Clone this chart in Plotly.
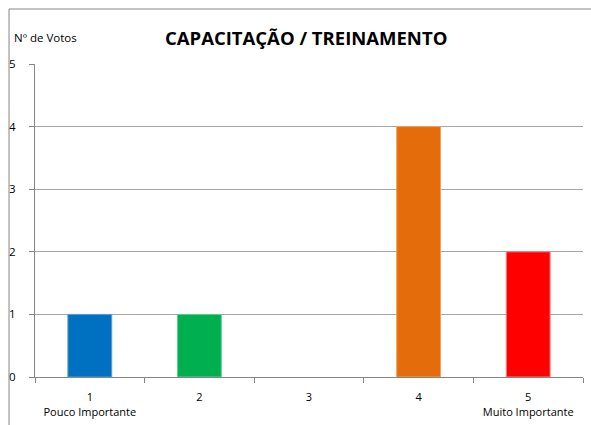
import plotly.graph_objects as go

categories = ["1", "2", "3", "4", "5"]
tick_labels = ["1<br>Pouco Importante", "2", "3", "4", "5<br>Muito Importante"]
votes = [1, 1, 0, 4, 2]
colors = ["#0070C0", "#00B050", "#E46C0A", "#E46C0A", "#FF0000"]
edge_colors = ["#5B9BD5", "#66CC8F", "#F0A060", "#F0A060", "#FF8080"]
edge_widths = [1 if v > 0 else 0 for v in votes]

FONT = "Open Sans"

fig = go.Figure(
    go.Bar(
        x=categories,
        y=votes,
        marker=dict(color=colors, line=dict(color=edge_colors, width=edge_widths)),
        width=0.4,
    )
)

fig.update_layout(
    width=591,
    height=425,
    margin=dict(l=35, r=8, t=64, b=48),
    paper_bgcolor="white",
    plot_bgcolor="white",
    showlegend=False,
    font=dict(family=FONT, size=11, color="#000000"),
    shapes=[
        dict(type="line", xref="paper", yref="paper", x0=-0.0474, x1=1.02, y0=1.1757, y1=1.1757,
             line=dict(color="#868686", width=1)),
        dict(type="line", xref="paper", yref="paper", x0=-0.0474, x1=-0.0474, y0=1.1757, y1=-0.2,
             line=dict(color="#868686", width=1)),
    ],
    annotations=[
        dict(text="<b>CAPACITAÇÃO / TREINAMENTO</b>", xref="paper", yref="paper",
             x=0.495, y=1.086, xanchor="center", yanchor="middle", showarrow=False,
             font=dict(family=FONT, size=18.5, color="#000000")),
        dict(text="Nº de Votos", xref="paper", yref="paper",
             x=-0.042, y=1.086, xanchor="left", yanchor="middle", showarrow=False,
             font=dict(family=FONT, size=11.5, color="#000000")),
    ],
)

fig.update_xaxes(
    type="category",
    tickmode="array",
    tickvals=categories,
    ticktext=tick_labels,
    tickson="boundaries",
    ticks="outside",
    ticklen=5,
    tickcolor="#868686",
    showline=True,
    linecolor="#868686",
    linewidth=1,
    showgrid=False,
    tickfont=dict(family=FONT, size=11, color="#000000"),
    ticklabelstandoff=10,
    automargin=False,
    fixedrange=True,
)

fig.update_yaxes(
    range=[0, 5],
    dtick=1,
    ticks="outside",
    ticklen=5,
    tickcolor="#868686",
    showline=True,
    linecolor="#868686",
    linewidth=1,
    showgrid=True,
    gridcolor="#A6A6A6",
    gridwidth=1,
    zeroline=False,
    tickfont=dict(family=FONT, size=11.5, color="#000000"),
    ticklabelstandoff=11,
    automargin=False,
    fixedrange=True,
)

fig.write_html(
    "out.html",
    config={"displayModeBar": False},
    post_script="document.body.style.margin='0px';document.body.style.overflow='hidden';",
)
